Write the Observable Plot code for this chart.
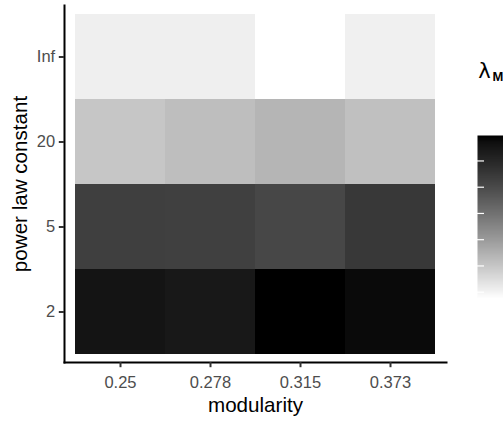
<!DOCTYPE html>
<html><head><meta charset="utf-8">
<script src="https://cdn.jsdelivr.net/npm/d3@7"></script>
<script src="https://cdn.jsdelivr.net/npm/@observablehq/plot@0.6"></script>
<style>
html,body{margin:0;padding:0;background:#fff;}
#wrap{position:relative;width:503px;height:421px;overflow:hidden;background:#fff;}
#wrap svg{position:absolute;top:0;}
</style></head><body><div id="wrap"></div>
<script>
// categories
const modularity = ["0.25", "0.278", "0.315", "0.373"];
const powerLawConstant = ["Inf", "20", "5", "2"]; // top to bottom
// lambda_M values per power-law constant (columns follow modularity)
const lambdaInf = [0.211, 0.211, 0.176, 0.208];
const lambda20  = [0.300, 0.319, 0.339, 0.314];
const lambda5   = [0.631, 0.629, 0.609, 0.650];
const lambda2   = [0.758, 0.746, 0.797, 0.780];
// colourbar tick values (labels fall outside the picture)
const legendTicks = [0.2, 0.3, 0.4, 0.5, 0.6, 0.7];

const rows = {"Inf": lambdaInf, "20": lambda20, "5": lambda5, "2": lambda2};
const data = [];
powerLawConstant.forEach(p => modularity.forEach((m, j) => data.push({modularity: m, plc: p, lambda: rows[p][j]})));
const dom = d3.extent(data, d => d.lambda);
const colorOpts = {type: "linear", domain: dom, range: ["white", "black"], interpolate: "lab"};
const font = "'Liberation Sans', Arial, Helvetica, sans-serif";

const main = Plot.plot({
  width: 503, height: 421,
  marginLeft: 64, marginRight: 57, marginTop: 5, marginBottom: 59,
  style: {fontFamily: font, background: "transparent"},
  x: {type: "band", domain: modularity, paddingInner: 0, paddingOuter: 0.1},
  y: {type: "band", domain: powerLawConstant, paddingInner: 0, paddingOuter: 0.1},
  color: colorOpts,
  marks: [
    Plot.cell(data, {x: "modularity", y: "plc", fill: "lambda", inset: 0, shapeRendering: "crispEdges"}),
    Plot.frame({anchor: "left", stroke: "black", strokeWidth: 2}),
    Plot.frame({anchor: "bottom", stroke: "black", strokeWidth: 2}),
    Plot.axisX({tickSize: 5.2, tickPadding: 8.5, fontSize: 16.5, stroke: "#333333", strokeWidth: 2, fill: "#4d4d4d", label: null}),
    Plot.axisY({tickSize: 5.2, tickPadding: 4.1, fontSize: 16.5, stroke: "#333333", strokeWidth: 2, fill: "#4d4d4d", label: null}),
    Plot.text(["modularity"], {frameAnchor: "bottom", dy: 43.3, lineAnchor: "middle", textAnchor: "middle", fontSize: 20.6, fill: "black"}),
    Plot.text(["power law constant"], {frameAnchor: "left", dx: -44, rotate: -90, lineAnchor: "middle", textAnchor: "middle", fontSize: 20.6, fill: "black"})
  ]
});

const legend = Plot.plot({
  width: 60, height: 421,
  marginLeft: 12, marginRight: 13, marginTop: 135, marginBottom: 123,
  style: {fontFamily: font, background: "transparent", overflow: "visible"},
  x: {domain: [0, 1], axis: null},
  y: {domain: dom, axis: null},
  color: colorOpts,
  marks: [
    Plot.raster({fill: (x, y) => y, x1: 0, x2: 1, y1: dom[0], y2: dom[1], width: 1, height: 300}),
    Plot.ruleY(legendTicks, {x1: 0, x2: 0.2, stroke: "white", strokeWidth: 1.2}),
    Plot.ruleY(legendTicks, {x1: 0.8, x2: 1, stroke: "white", strokeWidth: 1.2}),
    Plot.text(["λ"], {frameAnchor: "top-left", dx: 7, dy: -64, lineAnchor: "middle", textAnchor: "middle", fontSize: 21, fontFamily: "'DejaVu Sans', sans-serif", fill: "black"}),
    Plot.text(["M"], {frameAnchor: "top-left", dx: 20.5, dy: -59, lineAnchor: "middle", textAnchor: "middle", fontSize: 13, fontWeight: "bold", fill: "black"})
  ]
});
legend.style.left = "465px";

const wrap = document.getElementById("wrap");
main.style.left = "0px";
wrap.appendChild(main);
wrap.appendChild(legend);
</script>
</body></html>
